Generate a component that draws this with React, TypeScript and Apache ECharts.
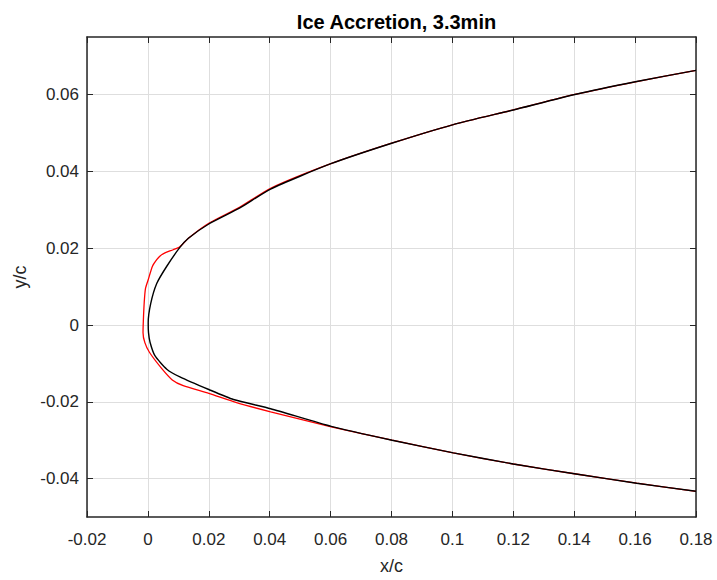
import React, { useEffect, useRef } from "react";
import * as echarts from "echarts";

const chartTitle = "Ice Accretion, 3.3min";
const xName = "x/c";
const yName = "y/c";

// clean airfoil (black), from upper trailing edge round the nose to lower trailing edge
const cleanX = [0.18, 0.1605, 0.1406, 0.12, 0.1003, 0.0803, 0.0601, 0.0403, 0.0302, 0.02, 0.0133, 0.0105, 0.0062, 0.0029, 0.0009, 0.0001, 0.0002, 0.0007, 0.0023, 0.0062, 0.0105, 0.02, 0.0281, 0.0403, 0.0602, 0.0802, 0.1003, 0.12, 0.1406, 0.1605, 0.18];
const cleanY = [0.0663, 0.0634, 0.0601, 0.056, 0.0522, 0.0474, 0.042, 0.0354, 0.0305, 0.0263, 0.0226, 0.0202, 0.0153, 0.0108, 0.0055, 0.0006, -0.002, -0.0045, -0.008, -0.0115, -0.0135, -0.0168, -0.0194, -0.0218, -0.0264, -0.03, -0.0333, -0.0362, -0.0388, -0.0412, -0.0433];

// iced airfoil (red)
const iceX = [0.18, 0.1605, 0.1406, 0.12, 0.1003, 0.0803, 0.0601, 0.0403, 0.0302, 0.02, 0.0133, 0.0105, 0.0083, 0.0056, 0.004, 0.0029, 0.0015, 0.0001, -0.0008, -0.0012, -0.0015, -0.0016, -0.001, 0.0005, 0.0045, 0.008, 0.0116, 0.02, 0.0291, 0.0403, 0.0602, 0.0802, 0.1003, 0.12, 0.1406, 0.1605, 0.18];
const iceY = [0.0663, 0.0634, 0.0601, 0.056, 0.0522, 0.0474, 0.042, 0.0356, 0.0307, 0.0265, 0.0226, 0.0204, 0.0196, 0.0188, 0.018, 0.017, 0.0153, 0.0118, 0.0095, 0.006, 0.001, -0.002, -0.0046, -0.0071, -0.0113, -0.0143, -0.0158, -0.0178, -0.0202, -0.0226, -0.0265, -0.03, -0.0333, -0.0362, -0.0388, -0.0412, -0.0433];

const xTicks = [-0.02, 0, 0.02, 0.04, 0.06, 0.08, 0.1, 0.12, 0.14, 0.16, 0.18];
const yTicks = [-0.04, -0.02, 0, 0.02, 0.04, 0.06];

const X_MIN = -0.02, X_MAX = 0.18, Y_MIN = -0.05, Y_MAX = 0.075;

const FONT = "'Liberation Sans', Arial, Helvetica, sans-serif";
const AX = "#262626";

const fmt = (v: number) => String(parseFloat(Number(v).toFixed(2)));

export default function App() {
  const ref = useRef<HTMLDivElement>(null);
  useEffect(() => {
    if (!ref.current) return;
    const chart = echarts.init(ref.current, undefined, { renderer: "svg" });
    const pairs = (xs: number[], ys: number[]) => xs.map((x, i) => [x, ys[i]]);
    const axLine = { show: true, onZero: false, lineStyle: { color: AX, width: 1.5 } };
    const tick = (vals: number[]) => ({ show: true, inside: true, length: 6, lineStyle: { color: AX, width: 1 }, customValues: vals });
    chart.setOption({
      animation: false,
      backgroundColor: "#ffffff",
      title: {
        text: chartTitle,
        left: 391.5,
        top: 7,
        textAlign: "center",
        textStyle: { fontFamily: FONT, fontSize: 20, fontWeight: "bold", color: "#000" },
      },
      grid: { left: 87, right: 21, top: 37, bottom: 62, containLabel: false },
      xAxis: [
        {
          type: "value", min: X_MIN, max: X_MAX, position: "bottom",
          name: xName, nameLocation: "middle", nameGap: 40,
          nameTextStyle: { fontFamily: FONT, fontSize: 18, color: AX },
          axisLine: axLine,
          axisTick: tick(xTicks),
          axisLabel: { customValues: xTicks, formatter: fmt, fontFamily: FONT, fontSize: 17, color: AX, margin: 14 },
          splitLine: { show: true, lineStyle: { color: "#dedede", width: 1 } },
        },
        {
          type: "value", min: X_MIN, max: X_MAX, position: "top",
          axisLine: axLine, axisTick: tick(xTicks),
          axisLabel: { show: false }, splitLine: { show: false },
        },
      ],
      yAxis: [
        {
          type: "value", min: Y_MIN, max: Y_MAX, position: "left",
          name: yName, nameLocation: "middle", nameGap: 56, nameRotate: 90,
          nameTextStyle: { fontFamily: FONT, fontSize: 18, color: AX },
          axisLine: axLine,
          axisTick: tick(yTicks),
          axisLabel: { customValues: yTicks, formatter: fmt, fontFamily: FONT, fontSize: 17, color: AX, margin: 8 },
          splitLine: { show: true, lineStyle: { color: "#dedede", width: 1 } },
        },
        {
          type: "value", min: Y_MIN, max: Y_MAX, position: "right",
          axisLine: axLine, axisTick: tick(yTicks),
          axisLabel: { show: false }, splitLine: { show: false },
        },
      ],
      series: [
        {
          type: "line", name: "iced", data: pairs(iceX, iceY), xAxisIndex: 0, yAxisIndex: 0,
          showSymbol: false, smooth: 0.2, lineStyle: { color: "#ff0000", width: 1.3 }, z: 2,
        },
        {
          type: "line", name: "clean", data: pairs(cleanX, cleanY), xAxisIndex: 0, yAxisIndex: 0,
          showSymbol: false, smooth: 0.2, lineStyle: { color: "#000000", width: 1.4 }, z: 3,
        },
      ],
    });
    return () => chart.dispose();
  }, []);
  return <div ref={ref} style={{ position: "fixed", left: 0, top: 0, width: 717, height: 580, background: "#fff" }} />;
}
